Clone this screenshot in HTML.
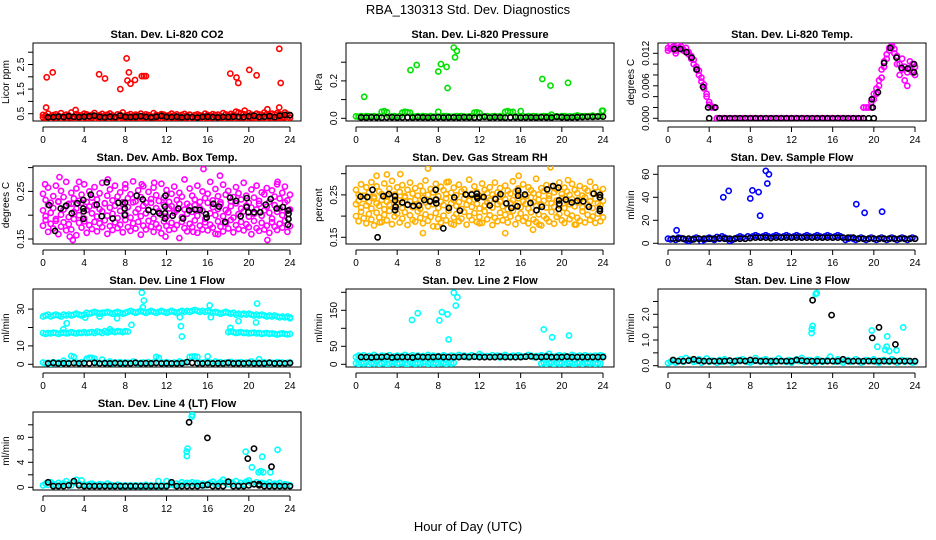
<!DOCTYPE html>
<html><head><meta charset="utf-8"><style>
html,body{margin:0;padding:0;background:#fff}
svg{display:block;font-family:"Liberation Sans",Arial,sans-serif}
</style></head><body>
<svg id="chart" width="936" height="540" viewBox="0 0 936 540" xmlns="http://www.w3.org/2000/svg">
<rect width="936" height="540" fill="#fff"/>
<text x="468" y="14" text-anchor="middle" font-size="13">RBA_130313  Std. Dev. Diagnostics</text>
<text x="468" y="531" text-anchor="middle" font-size="13">Hour of Day (UTC)</text>
</svg>
<script>
// ---------- data ----------
const xTicks = [0,4,8,12,16,20,24];
const titles = ["Stan. Dev. Li-820 CO2","Stan. Dev. Li-820 Pressure","Stan. Dev. Li-820 Temp.","Stan. Dev. Amb. Box Temp.","Stan. Dev. Gas Stream RH","Stan. Dev. Sample Flow","Stan. Dev. Line 1 Flow","Stan. Dev. Line 2 Flow","Stan. Dev. Line 3 Flow","Stan. Dev. Line 4 (LT) Flow"];
const yTitles = ["Licor ppm","kPa","degrees C","degrees C","percent","ml/min","ml/min","ml/min","ml/min","ml/min"];
const yTicks = [[0.5,1,1.5,2,2.5,3],[0,0.1,0.2,0.3],[0,0.002,0.004,0.006,0.008,0.01,0.012],[0.15,0.2,0.25,0.3],[0.15,0.2,0.25,0.3],[0,20,40,60],[0,10,20,30],[0,50,100,150,200],[0,0.5,1,1.5,2,2.5],[0,2,4,6,8,10]];
const yLabels = [["0.5","","1.5","","2.5",""],["0.0","","0.2",""],["0.000","","","0.006","","","0.012"],["0.15","","0.25",""],["0.15","","0.25",""],["0","20","40","60"],["0","10","","30"],["0","50","","150",""],["0.0","","1.0","","2.0",""],["0","","4","","8",""]];

// Panel 1 CO2
const co2A = [45,42,50,38,44,47,41,52,40,46,43,55,39,48,44,42,50,47,41,45,53,40,44,49,42,46,51,43,38,47,45,55,42,44,48,40,46,43,50,41,47,44,39,52,45,42,48,46,41,44,50,43,47,40,45,49,42,46,38,44,47,43,41,50,45,42,48,44,46,40,52,47,43,49,45,58,55,50,48,44,52,46,42,50,47,45,55,48,44,50,46,52,48,45,55,47,44].map(v=>v/100);
const co2B = [35,32,36,30,34,33,37,31,35,32,36,34,30,33,35,31,37,32,34,36,30,33,35,32,34,31,36,33,35,30,34,32,36,31,33,35,34,30,32,36,33,31,35,34,32,30,36,33,31,35,32,34,36,30,33,35,31,34,32,36,33,30,35,32,34,31,36,33,35,30,34,32,36,31,33,35,34,30,32,36,33,31,35,34,32,30,36,33,31,35,32,34,36,30,33].map(v=>v/100);
const co2OutH = [0.36,0.94,5.45,6.02,7.51,8.12,8.35,8.2,8.5,8.94,9.6,9.8,10.0,18.2,18.8,18.98,20.05,20.75,22.96,23.1,0.3,3.17,21.8,22.95,19.6];
const co2OutV = [1.98,2.18,2.1,1.93,1.5,2.75,2.18,1.85,1.72,1.87,2.03,2.03,2.03,2.13,1.97,1.75,2.28,2.06,3.14,1.75,0.75,0.65,0.68,0.75,0.62];
const co2Black = [35,36,38,36,40,37,36,38,39,42,37,35,38,36,42,37,36,38,40,37,35,38,41,37,36,38,35,37,36,34,37,38,36,35,37,36,38,37,36,39,42,37,38,40,36,42,45,44].map(v=>v/100);

// Panel 2 pressure
const presA = [10,8,12,9,11,10,9,12,8,10,35,38,32,10,9,11,8,12,30,35,32,30,10,9,11,8,12,10,9,11,8,10,35,9,11,12,10,8,9,11,10,12,9,8,10,11,30,32,28,10,9,11,8,10,12,9,11,8,35,38,32,34,10,9,38,10,8,11,9,12,10,8,9,11,10,12,20,9,10,8,11,12,9,10,8,11,15,12,10,11,9,12,14,10,11,12,40].map(v=>v/1000);
const presOutH = [0.8,5.3,5.9,8.0,8.25,8.8,8.9,9.62,9.5,9.8,18.1,18.9,20.6,23.9];
const presOutV = [0.115,0.258,0.285,0.25,0.29,0.275,0.162,0.326,0.378,0.36,0.21,0.175,0.19,0.04];
const presBlack = [5,4,6,5,4,5,6,4,5,5,4,6,5,4,5,6,4,5,5,4,6,5,4,5,8,4,6,5,4,5,6,4,5,5,4,6,5,4,8,6,4,5,6,7,8,8,9,9].map(v=>v/1000);

// Panel 3 Li-820 temp
const tempA = [130,128,132,125,130,128,127,130,122,115,108,95,88,75,62,45,30,22,20,0,0,0,0,0,0,0,0,0,0,0,0,0,0,0,0,0,0,0,0,0,0,0,0,0,0,0,0,0,0,0,0,0,0,0,0,0,0,0,0,0,0,0,0,0,0,0,0,0,0,0,0,0,0,0,0,0,20,20,20,20,35,45,60,75,95,110,125,132,128,115,100,110,95,85,105,100,95].map(v=>v/10000);
const tempB = [125,135,128,120,135,133,125,122,118,110,100,90,80,68,55,40,25,20,20,0,0,0,0,0,0,0,0,0,0,0,0,0,0,0,0,0,0,0,0,0,0,0,0,0,0,0,0,0,0,0,0,0,0,0,0,0,0,0,0,0,0,0,0,0,0,0,0,0,0,0,0,0,0,0,0,0,20,20,20,30,45,55,70,90,105,118,130,135,120,100,80,90,70,60,90,85,80].map(v=>v/10000);
const tempBlackH = [0.6,1.2,1.8,2.3,2.8,3.4,3.9,4.6,4.0,5,5.5,6,6.5,7,7.5,8,8.5,9,9.5,10,10.5,11,11.5,12,12.5,13,13.5,14,14.5,15,15.5,16,16.5,17,17.5,18,18.5,19,19.5,20,19.8,19.9,20.4,21,21.6,22.2,22.7,23.3,23.9,23.9];
const tempBlackV = [0.0128,0.0128,0.0122,0.0112,0.009,0.0058,0.002,0.002,0,0,0,0,0,0,0,0,0,0,0,0,0,0,0,0,0,0,0,0,0,0,0,0,0,0,0,0,0,0,0,0,0.0035,0.002,0.0048,0.0102,0.013,0.0112,0.0093,0.0092,0.0085,0.01];

// Panel 4 amb box temp
const boxA = [245,232,258,226,240,262,229,251,238,270,224,247,235,256,230,243,265,228,250,237,259,233,246,268,225,241,254,231,262,239,248,227,257,236,244,271,229,252,238,261,226,249,234,258,242,230,266,237,253,228,245,260,232,247,239,275,224,256,241,233,262,228,250,236,245,270,231,255,240,227,264,243,251,229,238,259,246,233,268,241,226,254,237,262,230,248,244,257,228,252,239,265,235,247,260,231,243].map(v=>v/1000);
const boxB = [210,198,222,205,215,192,228,201,212,219,196,224,207,214,200,226,193,211,218,204,221,197,213,208,225,199,216,203,220,194,209,223,202,217,195,227,206,213,198,220,204,211,226,193,215,208,201,222,197,214,219,205,210,224,196,212,203,218,207,221,199,215,209,192,226,204,217,200,213,223,198,211,206,219,195,225,202,214,208,220,197,216,203,212,224,199,210,218,205,193,221,207,214,200,227,209,212].map(v=>v/1000);
const boxC = [178,190,165,182,172,188,160,176,185,168,181,170,192,158,184,174,187,163,179,171,186,166,183,175,189,161,177,169,185,173,180,164,190,175,167,183,172,186,159,178,170,188,176,165,181,174,162,187,177,169,184,171,179,152,186,173,166,182,175,189,163,178,170,185,168,180,174,161,187,176,166,183,172,190,164,179,171,186,168,181,175,160,188,173,167,184,170,178,163,185,176,169,182,174,188,165,177].map(v=>v/1000);
const boxOutH = [0.2,1.6,2.6,2.9,6.3,9.6,10.8,11.9,15.3,15.6,16.0,17.2,14.6,21.8,17.0,22.8,3.5,8.0];
const boxOutV = [0.265,0.28,0.155,0.148,0.275,0.265,0.268,0.155,0.31,0.297,0.31,0.283,0.165,0.148,0.16,0.27,0.27,0.265];
const boxBlackH = [0.6,1.17,1.72,2.24,2.8,3.33,3.92,3.92,3.95,3.92,4.64,5.22,5.7,6.2,6.77,7.33,7.97,7.95,7.95,9.1,9.7,10.24,10.72,11.3,11.85,11.9,11.85,11.85,12.6,13.15,13.6,14.2,14.77,15.25,15.84,15.9,16.55,17.1,17.69,18.18,18.76,19.2,19.8,19.8,19.95,20.5,21.1,21.64,22.12,22.7,23.3,23.85,23.85,23.85,23.8];
const boxBlackV = [0.221,0.167,0.214,0.22,0.204,0.225,0.232,0.214,0.208,0.192,0.243,0.222,0.198,0.269,0.193,0.226,0.226,0.214,0.2,0.241,0.233,0.211,0.207,0.204,0.218,0.241,0.204,0.193,0.199,0.214,0.193,0.21,0.212,0.211,0.202,0.195,0.224,0.218,0.186,0.237,0.23,0.198,0.236,0.217,0.206,0.206,0.206,0.222,0.234,0.214,0.217,0.21,0.203,0.192,0.18];

// Panel 5 RH
const rhA = [262,250,275,248,268,255,280,246,270,258,252,277,249,265,283,251,268,257,273,247,262,279,253,266,248,271,259,284,250,264,256,276,247,269,261,252,281,255,267,249,274,258,263,250,286,253,270,257,248,277,262,254,268,251,279,256,266,249,272,260,253,282,258,265,250,275,247,268,261,254,288,251,266,259,273,248,270,256,263,279,252,267,258,250,276,262,254,271,248,265,260,281,253,268,257,250,264].map(v=>v/1000);
const rhB = [228,236,220,240,225,233,218,242,230,224,238,216,234,227,241,222,231,237,219,244,226,235,221,239,229,217,243,232,223,236,228,240,219,234,226,242,221,230,238,224,233,217,241,227,236,222,239,229,218,245,225,232,237,220,243,228,234,223,240,216,231,238,226,242,221,235,229,218,244,233,224,239,227,236,220,241,230,222,237,225,243,219,234,228,240,223,232,238,221,244,227,235,219,241,230,226,236].map(v=>v/1000);
const rhC = [200,188,210,195,183,205,192,178,208,197,186,203,190,212,181,199,206,185,194,209,179,202,191,187,211,196,183,204,189,198,176,207,193,185,201,190,213,182,197,205,188,194,210,180,200,191,207,186,198,184,211,193,202,179,196,188,208,190,203,185,199,212,181,195,206,189,197,183,209,192,186,204,178,200,194,187,210,182,198,205,190,184,207,193,201,180,196,189,211,185,203,191,199,184,206,188,197].map(v=>v/1000);
const rhOutH = [2.0,3.0,4.3,7.0,8.8,6.5,7.9,9.5,14.5,15.8,17.2,17.8,18.9,20.6,21.4,12.0,2.3];
const rhOutV = [0.295,0.298,0.299,0.312,0.28,0.16,0.175,0.18,0.16,0.295,0.168,0.18,0.315,0.285,0.18,0.183,0.185];
const rhBlackH = [0.45,1.1,1.6,2.1,2.65,3.2,3.79,3.79,3.85,3.8,4.5,5.02,5.57,6.12,6.64,7.19,7.74,7.78,7.8,8.48,9.03,9.55,10.1,10.66,11.24,11.75,11.75,11.8,12.4,13.0,13.55,14.04,14.6,15.1,15.68,15.75,15.75,16.42,16.96,17.54,18.06,18.57,19.16,19.68,19.72,19.75,19.7,20.39,20.97,21.5,22.08,22.63,23.1,23.7,23.7,23.7,23.7];
const rhBlackV = [0.246,0.245,0.262,0.15,0.247,0.252,0.247,0.237,0.222,0.214,0.232,0.227,0.224,0.225,0.238,0.235,0.262,0.239,0.23,0.171,0.219,0.244,0.213,0.251,0.251,0.253,0.246,0.242,0.245,0.225,0.24,0.252,0.23,0.219,0.223,0.248,0.26,0.251,0.231,0.214,0.222,0.263,0.271,0.267,0.237,0.229,0.217,0.239,0.232,0.236,0.235,0.222,0.253,0.25,0.244,0.217,0.212];

// Panel 6 sample flow
const sfA = [4,3.5,4,3,5,4.5,4,3,2,3,4,5,4,1.5,3,4,5,4,3,5.5,4,6,5,4,2,3,4,5,6,5,4,6,5,6,7,6,5,6,7,6,5,6,7,6,5,6,7,6,5,6,7,6,5,6,7,6,5,6,7,6,5,6,7,6,5,6,7,6,5,3,4,5,4,3,4,5,4,3,4,5,4,3,4,5,4,3,4,5,4,3,4,5,4,3,4,5,4];
const sfOutH = [0.84,5.37,5.9,8.0,8.2,8.8,8.95,9.5,9.8,9.65,18.3,19.1,20.8];
const sfOutV = [11.3,40,45.6,39,46,44.5,24,63,60,52,34,26.5,27.5];
const sfBlack = [4,4,4,4,3.5,4,4,4,4,4.5,4,4,4,4,4,4.5,5,5,5,4.5,5,5,5,5,5,5,5,5,5,5,5,5,5,5,5,5,4,4,4,4,4,4,4,4,4,4,4,4];

// Panel 7 line 1 flow
const l1Upper = [26,26.5,27,26,26.5,27,26.5,26,27,26.5,27,26.5,27,27.5,27,26.5,27,28,27.5,28,28.5,28,27.5,28,28,28.5,28,27.5,28,28.5,28,27.5,28,28.5,29,28.5,28,28.5,29,28.5,28,28.5,29,28.5,28,28.5,29,28.5,28,28.5,29,28.5,28,28.5,29,28.5,29,28.5,29,29.5,29,28.5,29,28.5,29,28.5,28,28.5,28,27.5,28,28.5,28,27.5,28,27,27.5,27,27.5,27,27.5,27,26.5,27,26.5,27,26.5,26,26.5,26,26.5,26,25.5,26,25.5,26,25.5];
const l1Lower = [17,16.5,17,16.8,17.2,17,16.5,17,17.2,16.8,17,17.5,17,16.8,17.2,17,17.5,17,17.3,17.5,17,17.8,17.5,17,18,17.5,17.8,18,17.5,18,17.8,17.5,18,17.8,null,null,null,null,null,null,null,null,null,null,null,null,null,null,null,null,null,null,null,null,null,null,null,null,null,null,null,null,null,null,null,null,null,null,null,null,null,null,17.5,17.8,17.5,17,17.3,17.5,17,17.2,16.8,17,17.2,16.8,17,16.5,16.8,17,16.5,16.8,16.5,16.2,16.5,16.8,16.5,16.3,16.5];
const l1Bottom = [1,0.5,0.8,0.3,1.2,0.6,1,0.4,2,1,0.8,4.5,4,1,0.6,1.2,0.8,3,3.5,3.5,3,1,0.5,2.5,1,0.7,1.5,0.6,1,0.8,1.2,0.5,1,0.8,0.6,1.5,1,0.5,0.8,1,0.6,1.2,0.5,1,4,3.5,1,0.6,1.2,0.8,0.5,1,0.7,1.5,0.8,1,1.2,4,4.2,4.3,4,1,0.8,1.2,4.3,1,0.6,1.5,0.8,1.2,0.5,1,0.8,1.3,0.6,1,0.8,1.2,0.5,1,0.6,1.5,0.8,1,2.7,0.8,1.2,0.5,1,0.8,0.6,1.2,0.8,1,0.5,0.8,1];
const l1OutH = [9.6,9.8,9.7,1.98,2.3,4.1,5.5,6.26,6.5,8.6,7.2,13.3,13.4,13.5,16.2,16.3,18.2,19.0,20.8,20.7,24.0];
const l1OutV = [38.9,34.6,31,19,22.3,25.4,26,17.3,19,21.4,25,25.6,20.7,15.1,32,25.6,19.8,23.5,33,22.7,25];
const l1Black = [0.5,0.8,0.5,0.6,0.5,0.7,0.5,0.6,0.5,0.8,0.5,0.6,0.5,0.7,0.5,0.6,0.5,0.8,0.5,0.6,0.5,0.7,0.5,0.6,0.5,0.5,0.6,1.2,0.8,0.6,0.5,0.7,0.5,0.6,0.5,0.8,0.5,0.6,0.5,0.7,0.5,0.6,0.5,0.8,0.5,0.6,0.5,0.7];

// Panel 8 line 2 flow
const l2Upper = [20,24,22,25,19,23,21,26,22,20,24,23,21,25,19,22,24,20,23,26,21,22,25,19,24,21,23,20,26,22,24,21,23,19,25,22,20,24,23,21,26,22,24,20,23,25,21,22,28,24,20,23,21,25,22,24,19,23,26,21,22,24,20,25,23,21,22,26,24,20,23,22,25,21,24,29,22,20,23,25,21,24,22,20,26,23,21,24,22,25,20,23,21,24,22,25,23];
const l2Lower = [3,1,5,2,6,0.5,4,2,7,1,3,5,0.5,2,6,4,1,3,5,2,0.5,6,3,1,4,2,5,7,1,3,0.5,4,2,6,3,1,5,2,4,null,null,null,null,null,null,null,null,null,null,null,null,null,null,null,null,null,null,null,null,null,null,null,null,null,null,null,null,null,null,null,null,null,2,5,1,3,6,0.5,4,2,5,1,3,7,2,0.5,4,6,1,3,5,2,4,1,3,2,null];
const l2OutH = [5.44,6.0,8.1,8.35,8.9,9.0,9.5,9.85,9.7,18.25,19.05,20.7];
const l2OutV = [123,142,122,145,139,69,199,186,163,97,75,80];
const l2Black = [20,20,19,20,20,21,19,20,20,20,19,21,20,20,20,21,20,20,20,20,21,20,21,20,20,20,20,21,20,20,20,20,21,22,20,20,21,20,20,20,21,20,20,20,20,20,20,20];

// Panel 9 line 3 flow
const l3A = [0.1,0.15,0.2,0.12,0.18,0.25,0.15,0.3,0.2,0.22,0.15,0.18,0.25,0.12,0.2,0.28,0.15,0.2,0.18,0.12,0.22,0.15,0.25,0.18,0.2,0.12,0.15,0.22,0.18,0.25,0.2,0.15,0.12,0.18,0.3,0.2,0.15,0.22,0.25,0.18,0.12,0.2,0.15,0.28,0.2,0.18,0.15,0.22,0.12,0.2,0.25,0.18,0.3,0.15,0.2,0.22,0.18,0.12,0.25,0.2,0.15,0.18,0.22,0.35,0.2,0.15,0.25,0.18,0.12,0.2,0.22,0.15,0.18,0.25,0.2,0.12,0.15,0.22,0.2,0.18,0.25,0.15,0.12,0.2,0.22,0.18,0.15,0.25,0.2,0.12,0.18,0.22,0.15,0.2,0.18,0.12,0.15];
const l3OutH = [14.35,14.45,13.97,14.05,13.95,19.8,20.35,21.1,21.3,21.25,21.5,22.2,22.85];
const l3OutV = [2.79,2.83,1.42,1.55,1.27,1.37,0.74,0.62,1.14,0.74,0.57,0.6,1.49];
const l3BigBlackH = [14.05,15.9,19.85,20.5,22.1];
const l3BigBlackV = [2.55,1.97,1.08,1.49,0.83];
const l3Black = [0.22,0.18,0.18,0.2,0.25,0.2,0.18,0.18,0.18,0.18,0.18,0.2,0.18,0.2,0.18,0.22,0.2,0.18,0.18,0.18,0.18,0.18,0.18,0.18,0.22,0.2,0.18,0.18,0.18,0.18,0.18,0.18,0.18,0.25,0.18,0.18,0.18,0.18,0.18,0.18,0.18,0.18,0.18,0.18,0.18,0.18,0.18,0.18];

// Panel 10 line 4 flow
const l4A = [0.3,0.6,0.4,0.8,0.5,0.3,0.7,0.4,0.6,1,0.5,0.3,0.8,1.2,0.6,1.1,0.4,0.3,0.5,0.6,0.4,0.3,0.5,0.4,0.3,0.6,0.4,0.3,0.2,0.4,0.3,0.2,0.3,0.2,0.3,0.2,0.3,0.2,0.3,0.2,0.4,0.2,0.3,0.2,0.3,0.2,0.3,0.2,1,0.4,0.5,0.3,0.6,0.4,0.8,0.5,0.7,0.6,0.8,0.5,0.7,0.4,0.6,0.3,0.5,0.7,0.9,0.4,0.6,0.8,1.2,0.7,0.5,0.8,0.6,1,0.4,0.7,0.5,0.9,1.1,0.6,0.5,0.8,0.4,0.7,0.6,0.5,0.8,0.4,0.6,0.5,0.7,0.3,0.5,0.4,0.3];
const l4OutH = [14.45,14.5,13.96,14.05,13.98,19.7,20.3,21.3,21.15,21.4,22.1,22.8,20.95,11.2,17.5];
const l4OutV = [11.3,11.6,5.7,6.2,5.0,5.7,3.2,4.9,2.6,2.4,2.4,6.0,2.4,1.0,1.2];
const l4BigBlackH = [14.2,15.97,19.9,20.5,22.2,21.0];
const l4BigBlackV = [10.4,7.9,4.6,6.2,3.3,0.5];
const l4Black = [0.8,0.2,0.2,0.2,0.3,1.0,0.3,0.2,0.2,0.2,0.2,0.2,0.2,0.2,0.2,0.2,0.2,0.2,0.2,0.2,0.2,0.2,0.2,0.2,0.8,0.2,0.2,0.2,0.2,0.2,0.3,0.4,0.2,0.2,0.2,0.9,0.2,0.2,0.2,0.3,0.5,0.3,0.2,0.2,0.2,0.2,0.2,0.2];

// ---------- layout ----------
const colX0 = [43,356,668];
const rowTop = [43,166,289,412];
const PXH = 247/24;
const yBase = [0.5,0,0,0.15,0.15,0,0,0,0,0];
const yBasePx = [113.7,118.3,118.3,239,237.3,243.3,364.3,364.3,365.7,487.3];
const yK = [24.6,187,5417,476,424,1.15,1.84,0.36,25.7,6.25];

const svg = document.getElementById('chart');
const NS = 'http://www.w3.org/2000/svg';
function mk(tag, attrs, parent){const e=document.createElementNS(NS,tag);for(const k in attrs)e.setAttribute(k,attrs[k]);(parent||svg).appendChild(e);return e;}
function xs(p,h){return colX0[p%3]+h*PXH;}
function ys(p,v){return yBasePx[p]-(v-yBase[p])*yK[p];}
const groups=[];

for(let p=0;p<10;p++){
  const c=p%3, r=Math.floor(p/3);
  const L=colX0[c]-10, R=colX0[c]+258, T=rowTop[r], B=rowTop[r]+78;
  const g=mk('g',{});
  
  
  const cp=mk('clipPath',{id:'cp'+p},g);
  mk('rect',{x:L,y:T,width:R-L,height:B-T},cp);
  const box=mk('rect',{x:L,y:T,width:R-L,height:B-T,fill:'none',stroke:'#000','stroke-width':1},g);
  
  
  const t=mk('text',{x:(L+R)/2,y:T-5,'text-anchor':'middle','font-size':11,'font-weight':'bold'},g);
  t.textContent=titles[p];
  
  
  const ax=B+6;
  const xa=mk('g',{},g);
  
  
  mk('line',{x1:xs(p,0),x2:xs(p,24),y1:ax,y2:ax,stroke:'#000'},xa);
  xTicks.forEach(h=>{
    mk('line',{x1:xs(p,h),x2:xs(p,h),y1:ax,y2:ax+5,stroke:'#000'},xa);
    const tl=mk('text',{x:xs(p,h),y:ax+16,'text-anchor':'middle','font-size':10},xa);
    tl.textContent=h;
    
    
  });
  const ya=mk('g',{},g);
  
  
  yTicks[p].forEach((v,i)=>{
    const yy=ys(p,v);
    if(yy<T-1)return;
    mk('line',{x1:L-5,x2:L,y1:yy,y2:yy,stroke:'#000'},ya);
    if(yLabels[p][i]){
      const tl=mk('text',{x:L-9,y:yy,'text-anchor':'middle','font-size':10,transform:`rotate(-90 ${L-9} ${yy})`},ya);
      tl.textContent=yLabels[p][i];
      
      
    }
  });
  const yt=mk('text',{x:L-24,y:(T+B)/2,'text-anchor':'middle','font-size':10,transform:`rotate(-90 ${L-24} ${(T+B)/2})`},g);
  yt.textContent=yTitles[p];
  
  
  const pg=mk('g',{'clip-path':`url(#cp${p})`},g);
  
  
  groups.push(pg);
}

function dot(p,h,v,color){
  if(v===null||v===undefined)return;
  const c=mk('circle',{cx:xs(p,h).toFixed(1),cy:ys(p,v).toFixed(1),r:2.6,fill:'none',stroke:color,'stroke-width':1.6},groups[p]);
  
  
}
function even(p,vals,color){const n=vals.length;vals.forEach((v,i)=>dot(p,i*24/(n-1),v,color));}
function pairs(p,hs,vs,color){hs.forEach((h,i)=>dot(p,h,vs[i],color));}
function half(p,vals,color){vals.forEach((v,i)=>dot(p,0.5*(i+1),v,color));}

const RED='#ff0000',GRN='#00e000',MAG='#ff00ff',BLU='#0000ff',CYN='#00ffff',ORG='#ffb000',BLK='#000';
even(0,co2B,RED);even(0,co2A,RED);pairs(0,co2OutH,co2OutV,RED);half(0,co2Black,BLK);
even(1,presA,GRN);pairs(1,presOutH,presOutV,GRN);half(1,presBlack,BLK);
even(2,tempB,MAG);even(2,tempA,MAG);pairs(2,tempBlackH,tempBlackV,BLK);
even(3,boxA,MAG);even(3,boxB,MAG);even(3,boxC,MAG);pairs(3,boxOutH,boxOutV,MAG);pairs(3,boxBlackH,boxBlackV,BLK);
even(4,rhA,ORG);even(4,rhB,ORG);even(4,rhC,ORG);pairs(4,rhOutH,rhOutV,ORG);pairs(4,rhBlackH,rhBlackV,BLK);
even(5,sfA,BLU);pairs(5,sfOutH,sfOutV,BLU);half(5,sfBlack,BLK);
even(6,l1Upper,CYN);even(6,l1Lower,CYN);even(6,l1Bottom,CYN);pairs(6,l1OutH,l1OutV,CYN);half(6,l1Black,BLK);
even(7,l2Upper,CYN);even(7,l2Lower,CYN);pairs(7,l2OutH,l2OutV,CYN);half(7,l2Black,BLK);
even(8,l3A,CYN);pairs(8,l3OutH,l3OutV,CYN);half(8,l3Black,BLK);pairs(8,l3BigBlackH,l3BigBlackV,BLK);
even(9,l4A,CYN);pairs(9,l4OutH,l4OutV,CYN);half(9,l4Black,BLK);pairs(9,l4BigBlackH,l4BigBlackV,BLK);
</script>
</body></html>
